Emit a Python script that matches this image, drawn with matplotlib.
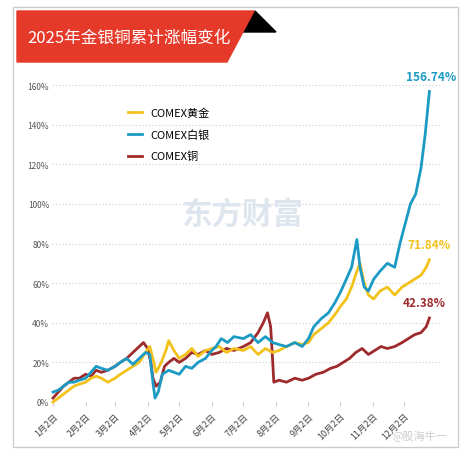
import matplotlib
matplotlib.use('Agg')
import matplotlib.pyplot as plt
from matplotlib.patches import Polygon, Rectangle

plt.rcParams['font.family'] = ['Noto Sans CJK SC', 'DejaVu Sans']

# 天数（从1月2日起算）与累计涨幅(%)
gold_day = [0, 5, 10, 15, 20, 25, 31, 36, 41, 46, 52, 59, 64, 70, 76, 82, 88, 92, 95, 98, 103, 108, 110, 115, 120, 126, 132, 138, 145, 151,
            158, 165, 172, 181, 188, 195, 202, 209, 215, 222, 230, 237, 243, 248, 255, 262, 268, 273, 279, 284, 289, 292, 296, 300,
            305, 311, 318, 325, 332, 338, 344, 350, 355, 358]
gold_val = [0, 2, 4, 6, 8, 9, 10, 12, 13, 12, 10, 12, 14, 16, 18, 20, 25, 28, 22, 15, 20, 27, 31, 26, 22, 24, 27, 23, 26, 27,
            28, 25, 27, 26, 28, 24, 27, 25, 26, 28, 30, 29, 30, 34, 37, 40, 44, 48, 52, 58, 66, 70, 60, 54,
            52, 56, 58, 54, 58, 60, 62, 64, 68, 71.84]

silver_day = [0, 5, 10, 15, 20, 25, 31, 36, 41, 46, 52, 59, 64, 70, 76, 82, 88, 92, 95, 97, 100, 104, 110, 115, 120, 126, 132, 138, 145, 151,
              155, 160, 166, 172, 181, 188, 195, 202, 209, 215, 222, 230, 237, 243, 248, 255, 262, 268, 273, 279, 284, 289, 292, 296, 300,
              305, 311, 318, 325, 330, 335, 340, 345, 350, 354, 358]
silver_val = [5, 6, 8, 10, 10, 11, 12, 15, 18, 17, 16, 18, 20, 22, 19, 22, 25, 24, 10, 2, 5, 14, 16, 15, 14, 18, 17, 20, 22, 26,
              28, 32, 30, 33, 32, 34, 30, 33, 30, 29, 28, 30, 28, 32, 38, 42, 45, 50, 55, 62, 68, 82, 68, 58,
              56, 62, 66, 70, 68, 80, 90, 100, 105, 118, 135, 156.74]

copper_day = [0, 5, 10, 15, 20, 25, 31, 36, 41, 46, 52, 59, 64, 70, 76, 82, 86, 90, 93, 95, 98, 102, 106, 110, 115, 120, 126, 132, 138, 145, 151,
              158, 165, 172, 181, 188, 195, 200, 204, 207, 209, 210, 215, 222, 230, 237, 243, 250, 257, 264, 270, 276, 282, 288, 294,
              300, 306, 312, 318, 325, 332, 338, 344, 350, 355, 358]
copper_val = [2, 5, 8, 10, 12, 12, 14, 13, 16, 15, 16, 18, 20, 22, 25, 28, 30, 27, 20, 12, 8, 10, 18, 20, 22, 20, 22, 25, 24, 26, 24,
              25, 27, 26, 28, 30, 35, 40, 45, 38, 20, 10, 11, 10, 12, 11, 12, 14, 15, 17, 18, 20, 22, 25, 27,
              24, 26, 28, 27, 28, 30, 32, 34, 35, 38, 42.38]

month_days = [0, 31, 59, 90, 120, 151, 181, 212, 243, 273, 304, 334]
month_labels = ['1月2日', '2月2日', '3月2日', '4月2日', '5月2日', '6月2日',
                '7月2日', '8月2日', '9月2日', '10月2日', '11月2日', '12月2日']
yticks = [0, 20, 40, 60, 80, 100, 120, 140, 160]

c_gold = '#f2c21b'
c_silver = '#1b9ac4'
c_copper = '#9e2a2b'

W, H = 471, 456
fig = plt.figure(figsize=(W / 100, H / 100), dpi=100)
fig.patch.set_facecolor('white')

# 外框
fig.add_artist(Rectangle((13 / W, 1 - 448 / H), 445 / W, 440 / H, transform=fig.transFigure,
                         fill=False, ec='#cccccc', lw=1))
# 标题条
fig.add_artist(Polygon([(255 / W, 1 - 12 / H), (276 / W, 1 - 33 / H), (240 / W, 1 - 33 / H)],
                       closed=True, transform=fig.transFigure, color='black'))
fig.add_artist(Polygon([(17 / W, 1 - 12 / H), (254 / W, 1 - 12 / H), (227 / W, 1 - 63 / H), (17 / W, 1 - 63 / H)],
                       closed=True, transform=fig.transFigure, color='#e53a2a'))
fig.text(27 / W, 1 - 38 / H, '2025年金银铜累计涨幅变化', color='white', fontsize=12, va='center')

ax = fig.add_axes([52 / W, 1 - 403 / H, 390 / W, 317 / H])
ax.set_xlim(-1, 370)
ax.set_ylim(0, 160)
for y in yticks:
    ax.axhline(y, color='#cccccc', lw=0.8, ls=(0, (1, 2)), zorder=0)
for s in ax.spines.values():
    s.set_visible(False)
ax.set_yticks(yticks)
ax.set_yticklabels([f'{y}%' for y in yticks], fontsize=6, color='#555555')
ax.set_xticks(month_days)
ax.set_xticklabels(month_labels, fontsize=6.5, color='#444444', rotation=45, ha='right', rotation_mode='anchor')
ax.tick_params(axis='y', length=0, pad=2)
ax.tick_params(axis='x', length=3, color='#cccccc')

ax.text(180, 95, '东方财富', fontsize=22, color='#dde6ef', ha='center', va='center', weight='bold', zorder=0)

ax.plot(copper_day, copper_val, color=c_copper, lw=2, label='COMEX铜', clip_on=False)
ax.plot(gold_day, gold_val, color=c_gold, lw=2, label='COMEX黄金', clip_on=False)
ax.plot(silver_day, silver_val, color=c_silver, lw=2, label='COMEX白银', clip_on=False)

h, l = ax.get_legend_handles_labels()
ax.legend([h[1], h[2], h[0]], [l[1], l[2], l[0]], loc='upper left', bbox_to_anchor=(0.17, 0.96),
          frameon=False, fontsize=8, handlelength=1.2, labelspacing=1.0)

ax.text(silver_day[-1] + 2, silver_val[-1] + 6, f'{silver_val[-1]:.2f}%', color=c_silver, fontsize=8.5,
        ha='center', weight='bold')
ax.text(gold_day[-1], gold_val[-1] + 6, f'{gold_val[-1]:.2f}%', color=c_gold, fontsize=8.5,
        ha='center', weight='bold')
ax.text(copper_day[-1] - 5, copper_val[-1] + 6, f'{copper_val[-1]:.2f}%', color=c_copper, fontsize=8.5,
        ha='center', weight='bold')

fig.text(420 / W, 1 - 440 / H, '@股海牛一', color='#cccccc', fontsize=8, ha='center')

fig.savefig('out.png', dpi=100)
